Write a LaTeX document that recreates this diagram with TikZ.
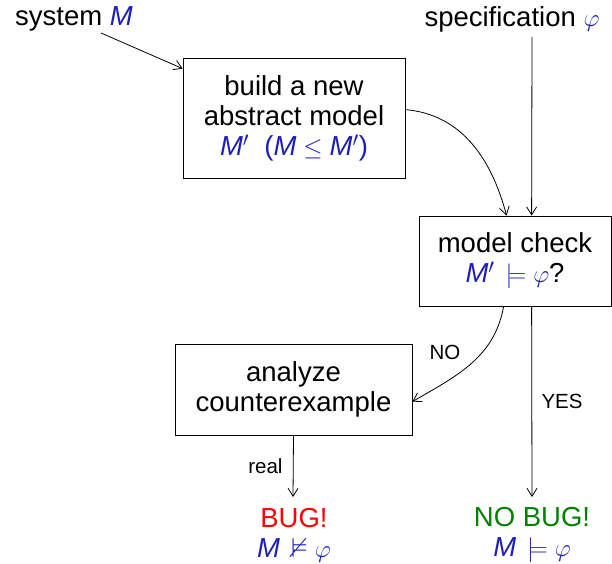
\documentclass[tikz,border=0pt]{standalone}
\usepackage{fontspec}
\usepackage{amssymb}
\setmainfont{Liberation Sans}
\usetikzlibrary{arrows.meta,calc}
\definecolor{mblue}{RGB}{30,30,185}
\definecolor{bugred}{RGB}{255,0,0}
\definecolor{okgreen}{RGB}{0,130,0}
\newcommand{\mM}{\textit{M}}
\newcommand{\wrel}[1]{\mathrel{\,#1}}
\begin{document}
\begin{tikzpicture}[x=1pt,y=-1pt,
  big/.style={font=\fontsize{27.5}{30}\selectfont, align=center},
  small/.style={font=\fontsize{20.5}{23}\selectfont},
  box/.style={big, draw, line width=0.8pt, inner sep=0pt},
  arr/.style={line width=0.8pt, -{Straight Barb[length=8pt,width=10pt]}}]
\useasboundingbox (0,0) rectangle (612,563);
% texts
\node[big, inner sep=0pt] (sys) at (74,19) {system \textcolor{mblue}{\mM}};
\node[big, inner sep=0pt] (spec) at (512,19) {specification \textcolor{mblue}{$\varphi$}};
% boxes
\node[box, minimum width=222pt, minimum height=120pt] (build) at (294,118)
  {build a new\\abstract model\\\textcolor{mblue}{\mM$'$\ \ (\mM${}\leq{}$\mM$'$)}};
\node[box, minimum width=192pt, minimum height=90pt] (check) at (515,261)
  {model check\\\textcolor{mblue}{\mM$'\wrel{\models}\varphi$}?};
\node[box, minimum width=237pt, minimum height=91pt] (anal) at (293.5,389.5)
  {analyze\\counterexample};
% results
\node[big, inner sep=0pt] (bug) at (294,535)
  {\textcolor{bugred}{BUG!}\\\textcolor{mblue}{\mM${}\wrel{\nvDash}\varphi$}};
\node[big, inner sep=0pt] (nobug) at (532,535)
  {\textcolor{okgreen}{NO BUG!}\\\textcolor{mblue}{\mM${}\wrel{\models}\varphi$}};
% connector ends
\coordinate (sysout) at (101,33);
\coordinate (specout) at (532,37);
\coordinate (buildin) at ($(build.north west)+(0,11)$);
\coordinate (buildout) at ($(build.north east)+(0,52)$);
\coordinate (checkinA) at ($(check.north west)+(88,0)$);
\coordinate (checkinB) at ($(check.north west)+(113,0)$);
\coordinate (checkoutA) at ($(check.south west)+(85,0)$);
\coordinate (checkoutB) at ($(check.south west)+(113,0)$);
\coordinate (analin) at ($(anal.north east)+(0,58)$);
\coordinate (bugin) at (293,497);
\coordinate (nobugin) at (532,497);
% connectors
\draw[arr] (sysout) -- (buildin);
\draw[arr] (specout) -- (checkinB);
\draw[arr] (buildout) to[out=-5, in=105] (checkinA);
\draw[arr] (checkoutA) to[out=-100, in=30] node[small, pos=0.38, left=18pt] (nolab) {NO} (analin);
\draw[arr] (checkoutB) -- node[small, pos=0.5, right=6pt] (yeslab) {YES} (nobugin);
\draw[arr] (anal.south) -- node[small, pos=0.5, left=7pt] (reallab) {real} (bugin);
\end{tikzpicture}
\end{document}
